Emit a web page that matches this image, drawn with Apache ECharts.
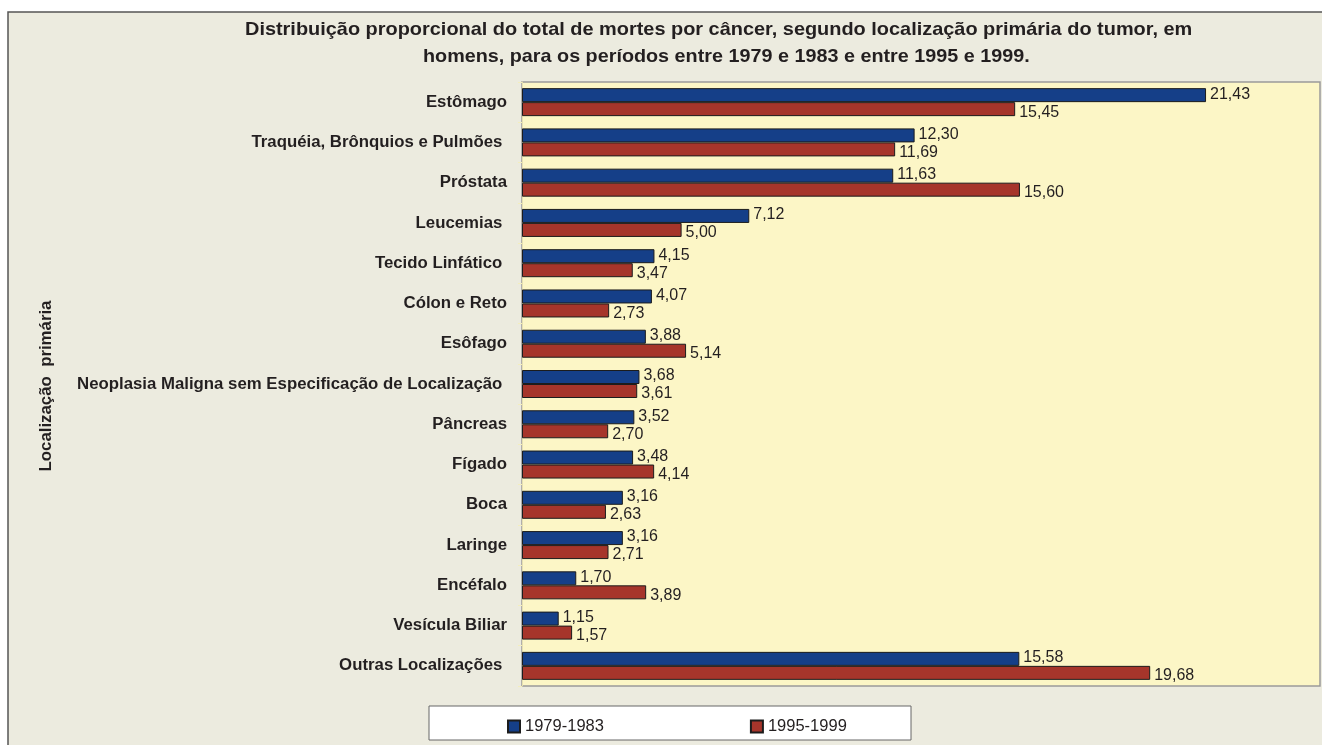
<!DOCTYPE html>
<html>
<head>
<meta charset="utf-8">
<script src="https://cdn.jsdelivr.net/npm/echarts@6/dist/echarts.min.js"></script>
<style>
  html, body { margin: 0; padding: 0; background: #ffffff; }
  #chart { width: 1322px; height: 745px; }
</style>
</head>
<body>
<div id="chart"></div>
<script>
// categorias (de cima para baixo)
var categorias = [
  'Estômago',
  'Traquéia, Brônquios e Pulmões ',
  'Próstata',
  'Leucemias ',
  'Tecido Linfático ',
  'Cólon e Reto',
  'Esôfago',
  'Neoplasia Maligna sem Especificação de Localização ',
  'Pâncreas',
  'Fígado',
  'Boca',
  'Laringe',
  'Encéfalo',
  'Vesícula Biliar',
  'Outras Localizações '
];
var periodos = ['1979-1983', '1995-1999'];
var valores7983 = [21.43, 12.30, 11.63, 7.12, 4.15, 4.07, 3.88, 3.68, 3.52, 3.48, 3.16, 3.16, 1.70, 1.15, 15.58];
var valores9599 = [15.45, 11.69, 15.60, 5.00, 3.47, 2.73, 5.14, 3.61, 2.70, 4.14, 2.63, 2.71, 3.89, 1.57, 19.68];

var corTexto = '#231f20';
var fonte = 'Liberation Sans, Arial, sans-serif';

function fmt(p) {
  return p.value.toFixed(2).replace('.', ',');
}

var chart = echarts.init(document.getElementById('chart'));

var option = {
  backgroundColor: '#ffffff',
  animation: false,
  textStyle: { fontFamily: fonte, color: corTexto },
  graphic: [
    // fundo bege com borda
    { type: 'rect', z: -10, shape: { x: 8, y: 12, width: 1330, height: 760 },
      style: { fill: '#ecebdf', stroke: '#555555', lineWidth: 1.5 } },
    // caixa da legenda
    { type: 'rect', z: -5, shape: { x: 429, y: 706, width: 482, height: 34 },
      style: { fill: '#ffffff', stroke: '#666666', lineWidth: 1 } },
    // titulo do eixo
    { type: 'text', x: 47, y: 386, rotation: Math.PI / 2, scaleX: 1.05,
      style: { text: 'Localização  primária', fill: corTexto, font: 'bold 16px ' + fonte,
        align: 'center', verticalAlign: 'middle' } },
    // titulo (duas linhas), fonte um pouco mais larga que a Liberation
    { type: 'text', x: 245, y: 30, scaleX: 1.12,
      style: { text: 'Distribuição proporcional do total de mortes por câncer, segundo localização primária do tumor, em',
        fill: corTexto, font: 'bold 17.8px ' + fonte, align: 'left', verticalAlign: 'middle' } },
    { type: 'text', x: 423, y: 57, scaleX: 1.112,
      style: { text: 'homens, para os períodos entre 1979 e 1983 e entre 1995 e 1999.',
        fill: corTexto, font: 'bold 17.8px ' + fonte, align: 'left', verticalAlign: 'middle' } }
  ],
  legend: {
    data: periodos,
    left: 502,
    top: 713,
    itemWidth: 12,
    itemHeight: 12,
    itemGap: 146,
    icon: 'rect',
    textStyle: { fontSize: 16.5, color: corTexto, fontFamily: fonte }
  },
  grid: {
    left: 522,
    right: 2,
    top: 82,
    height: 604,
    show: true,
    backgroundColor: '#fcf6c6',
    borderColor: '#9a9a9a',
    borderWidth: 1.5
  },
  xAxis: {
    type: 'value',
    min: 0,
    max: 25,
    axisLine: { show: false },
    axisTick: { show: false },
    axisLabel: { show: false },
    splitLine: { show: false }
  },
  yAxis: {
    type: 'category',
    inverse: true,
    data: categorias,
    axisLine: { show: true, lineStyle: { color: '#e6e0b0', width: 1 } },
    axisTick: { show: true, length: 4, lineStyle: { color: '#f3eebe' } },
    axisLabel: { fontSize: 16.8, fontWeight: 'bold', color: corTexto, margin: 15, fontFamily: fonte }
  },
  series: [
    {
      name: periodos[0],
      type: 'bar',
      data: valores7983,
      barWidth: 14,
      barGap: '0%',
      itemStyle: { color: '#153f88', borderColor: '#1c1c1c', borderWidth: 1 },
      label: { show: true, position: 'right', distance: 4, fontSize: 16, color: corTexto,
        fontFamily: fonte, offset: [0, -1], formatter: fmt }
    },
    {
      name: periodos[1],
      type: 'bar',
      data: valores9599,
      barWidth: 14,
      itemStyle: { color: '#a6352b', borderColor: '#1c1c1c', borderWidth: 1 },
      label: { show: true, position: 'right', distance: 4, fontSize: 16, color: corTexto,
        fontFamily: fonte, offset: [0, 3], formatter: fmt }
    }
  ]
};

chart.setOption(option);
</script>
</body>
</html>
